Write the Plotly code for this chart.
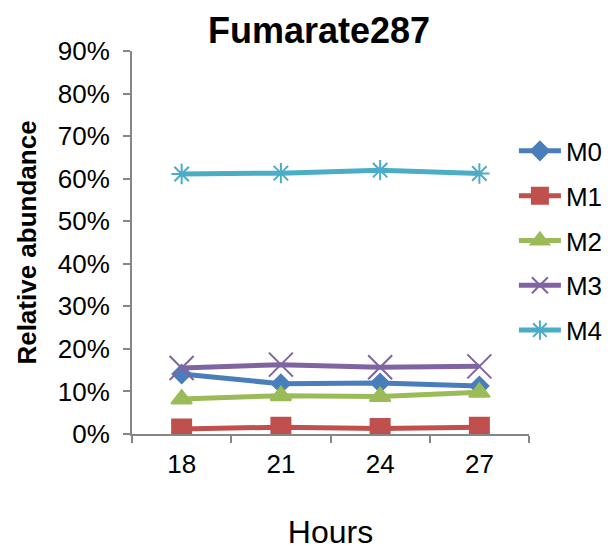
import plotly.graph_objects as go

hours = ["18", "21", "24", "27"]
m0 = [14.1, 11.8, 12.0, 11.3]
m1 = [1.2, 1.6, 1.3, 1.6]
m2 = [8.2, 9.0, 8.8, 9.8]
m3 = [15.5, 16.3, 15.7, 15.9]
m4 = [61.1, 61.3, 62.0, 61.2]

series = [
    ("M0", m0, "#4A7EBB", "diamond", 14),
    ("M1", m1, "#C0504D", "square", 19),
    ("M2", m2, "#9BBB59", "triangle-up", 18),
    ("M3", m3, "#8064A2", "x-thin-open", 24),
    ("M4", m4, "#4BACC6", "asterisk-open", 17),
]

fig = go.Figure()
for i, (name, vals, color, sym, sz) in enumerate(series):
    fig.add_trace(go.Scatter(
        x=hours, y=vals, name=name, mode="lines+markers",
        line=dict(color=color, width=5),
        marker=dict(symbol=sym, size=sz, color=color,
                    line=dict(color=color, width=2)),
        legendgroup=name,
    ))

fig.update_layout(
    width=616, height=550,
    margin=dict(l=132, r=87, t=51, b=116, autoexpand=False),
    paper_bgcolor="white", plot_bgcolor="white",
    font=dict(family="Liberation Sans, Arial, sans-serif", size=26, color="black"),
    title=dict(text="<b>Fumarate287</b>", x=0.518, xanchor="center",
               y=0.945, yanchor="middle", font=dict(size=36)),
    showlegend=True,
    legend=dict(x=0.962, xanchor="left", y=0.504, yanchor="middle",
                tracegroupgap=8, font=dict(size=26), itemwidth=42,
                bgcolor="rgba(0,0,0,0)"),
)
fig.update_xaxes(
    type="category", range=[-0.5, 3.5], showgrid=False, automargin=False,
    showline=True, linecolor="#868686", linewidth=2,
    ticks="outside", tickson="boundaries", ticklen=7, tickcolor="#868686", tickwidth=2,
    ticklabelstandoff=6,
    title=dict(text="Hours", font=dict(size=32), standoff=42),
)
fig.update_yaxes(
    range=[0, 90], dtick=10, ticksuffix="%", showgrid=False, zeroline=False,
    automargin=False,
    showline=True, linecolor="#868686", linewidth=2,
    ticks="outside", ticklen=7, tickcolor="#868686", tickwidth=2,
    ticklabelstandoff=8,
    title=dict(text="<b>Relative abundance</b>", font=dict(size=26), standoff=14),
)

fig.write_html("out.html")
